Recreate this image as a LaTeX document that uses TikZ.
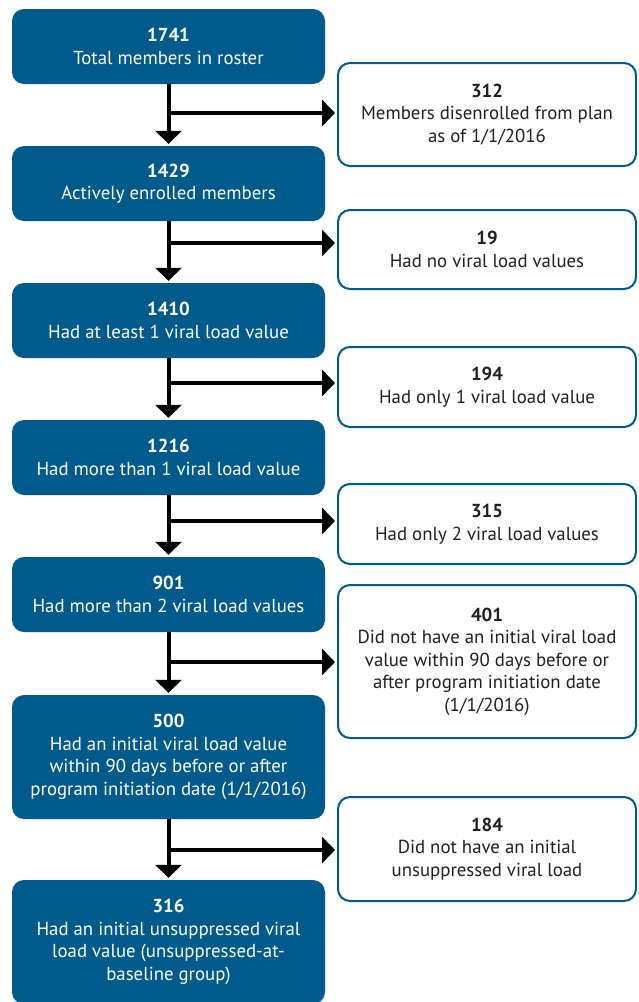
\documentclass[tikz,border=0pt]{standalone}
\usepackage{fontspec}
\setmainfont{PT Sans}
\usetikzlibrary{arrows.meta}
\definecolor{mblue}{HTML}{005A8C}
\definecolor{mtext}{HTML}{231F20}
\tikzset{stage/.style = {fill = mblue, text = white, rounded corners = 12,
                         minimum width = 313, inner sep = 0, align = center,
                         font = \fontsize{18.8}{22.5}\selectfont}}
\tikzset{drop/.style = {draw = mblue, line width = 2, fill = white, text = mtext,
                        rounded corners = 12, minimum width = 298, inner sep = 0,
                        align = center, font = \fontsize{18.8}{22.5}\selectfont}}
\tikzset{flow/.style = {line width = 4, -{Triangle[length=13pt, width=26pt]},
                        shorten > = 2}}

\begin{document}
\begin{tikzpicture}[x = 1pt, y = -1pt]
    \useasboundingbox (0, 0) rectangle (638, 1002);

    \node [stage, minimum height = 75] (b1) at (168.5, 46.5) {\textbf{1741}\\Total members in roster};
    \node [stage, minimum height = 75] (b2) at (168.5, 183.5) {\textbf{1429}\\Actively enrolled members};
    \node [stage, minimum height = 75] (b3) at (168.5, 320.5) {\textbf{1410}\\Had at least 1 viral load value};
    \node [stage, minimum height = 75] (b4) at (168.5, 457.5) {\textbf{1216}\\Had more than 1 viral load value};
    \node [stage, minimum height = 75] (b5) at (168.5, 594.5) {\textbf{901}\\Had more than 2 viral load values};
    \node [stage, minimum height = 124] (b6) at (168.5, 757) {\textbf{500}\\Had an initial viral load value\\within 90 days before or after\\program initiation date (1/1/2016)};
    \node [stage, minimum height = 124] (b7) at (168.5, 942) {\textbf{316}\\Had an initial unsuppressed viral\\load value (unsuppressed-at-\\baseline group)};

    \node [drop, minimum height = 103] (r1) at (487, 114.5) {\textbf{312}\\Members disenrolled from plan\\as of 1/1/2016};
    \node [drop, minimum height = 79] (r2) at (487, 249.5) {\textbf{19}\\Had no viral load values};
    \node [drop, minimum height = 80] (r3) at (487, 387) {\textbf{194}\\Had only 1 viral load value};
    \node [drop, minimum height = 80] (r4) at (487, 524) {\textbf{315}\\Had only 2 viral load values};
    \node [drop, minimum height = 153] (r5) at (487, 661.5) {\textbf{401}\\Did not have an initial viral load\\value within 90 days before or\\after program initiation date\\(1/1/2016)};
    \node [drop, minimum height = 104] (r6) at (487, 849) {\textbf{184}\\Did not have an initial\\unsuppressed viral load};

    \foreach \a/\b/\c/\y in {b1/b2/r1/113, b2/b3/r2/243, b3/b4/r3/383, b4/b5/r4/521, b5/b6/r5/662, b6/b7/r6/850} {
        \draw [flow] (\a.south) -- (\b.north);
        \coordinate (j\c) at (168.5, \y);
        \draw [flow] (j\c) -- (j\c -| \c.west);
    }
\end{tikzpicture}
\end{document}
